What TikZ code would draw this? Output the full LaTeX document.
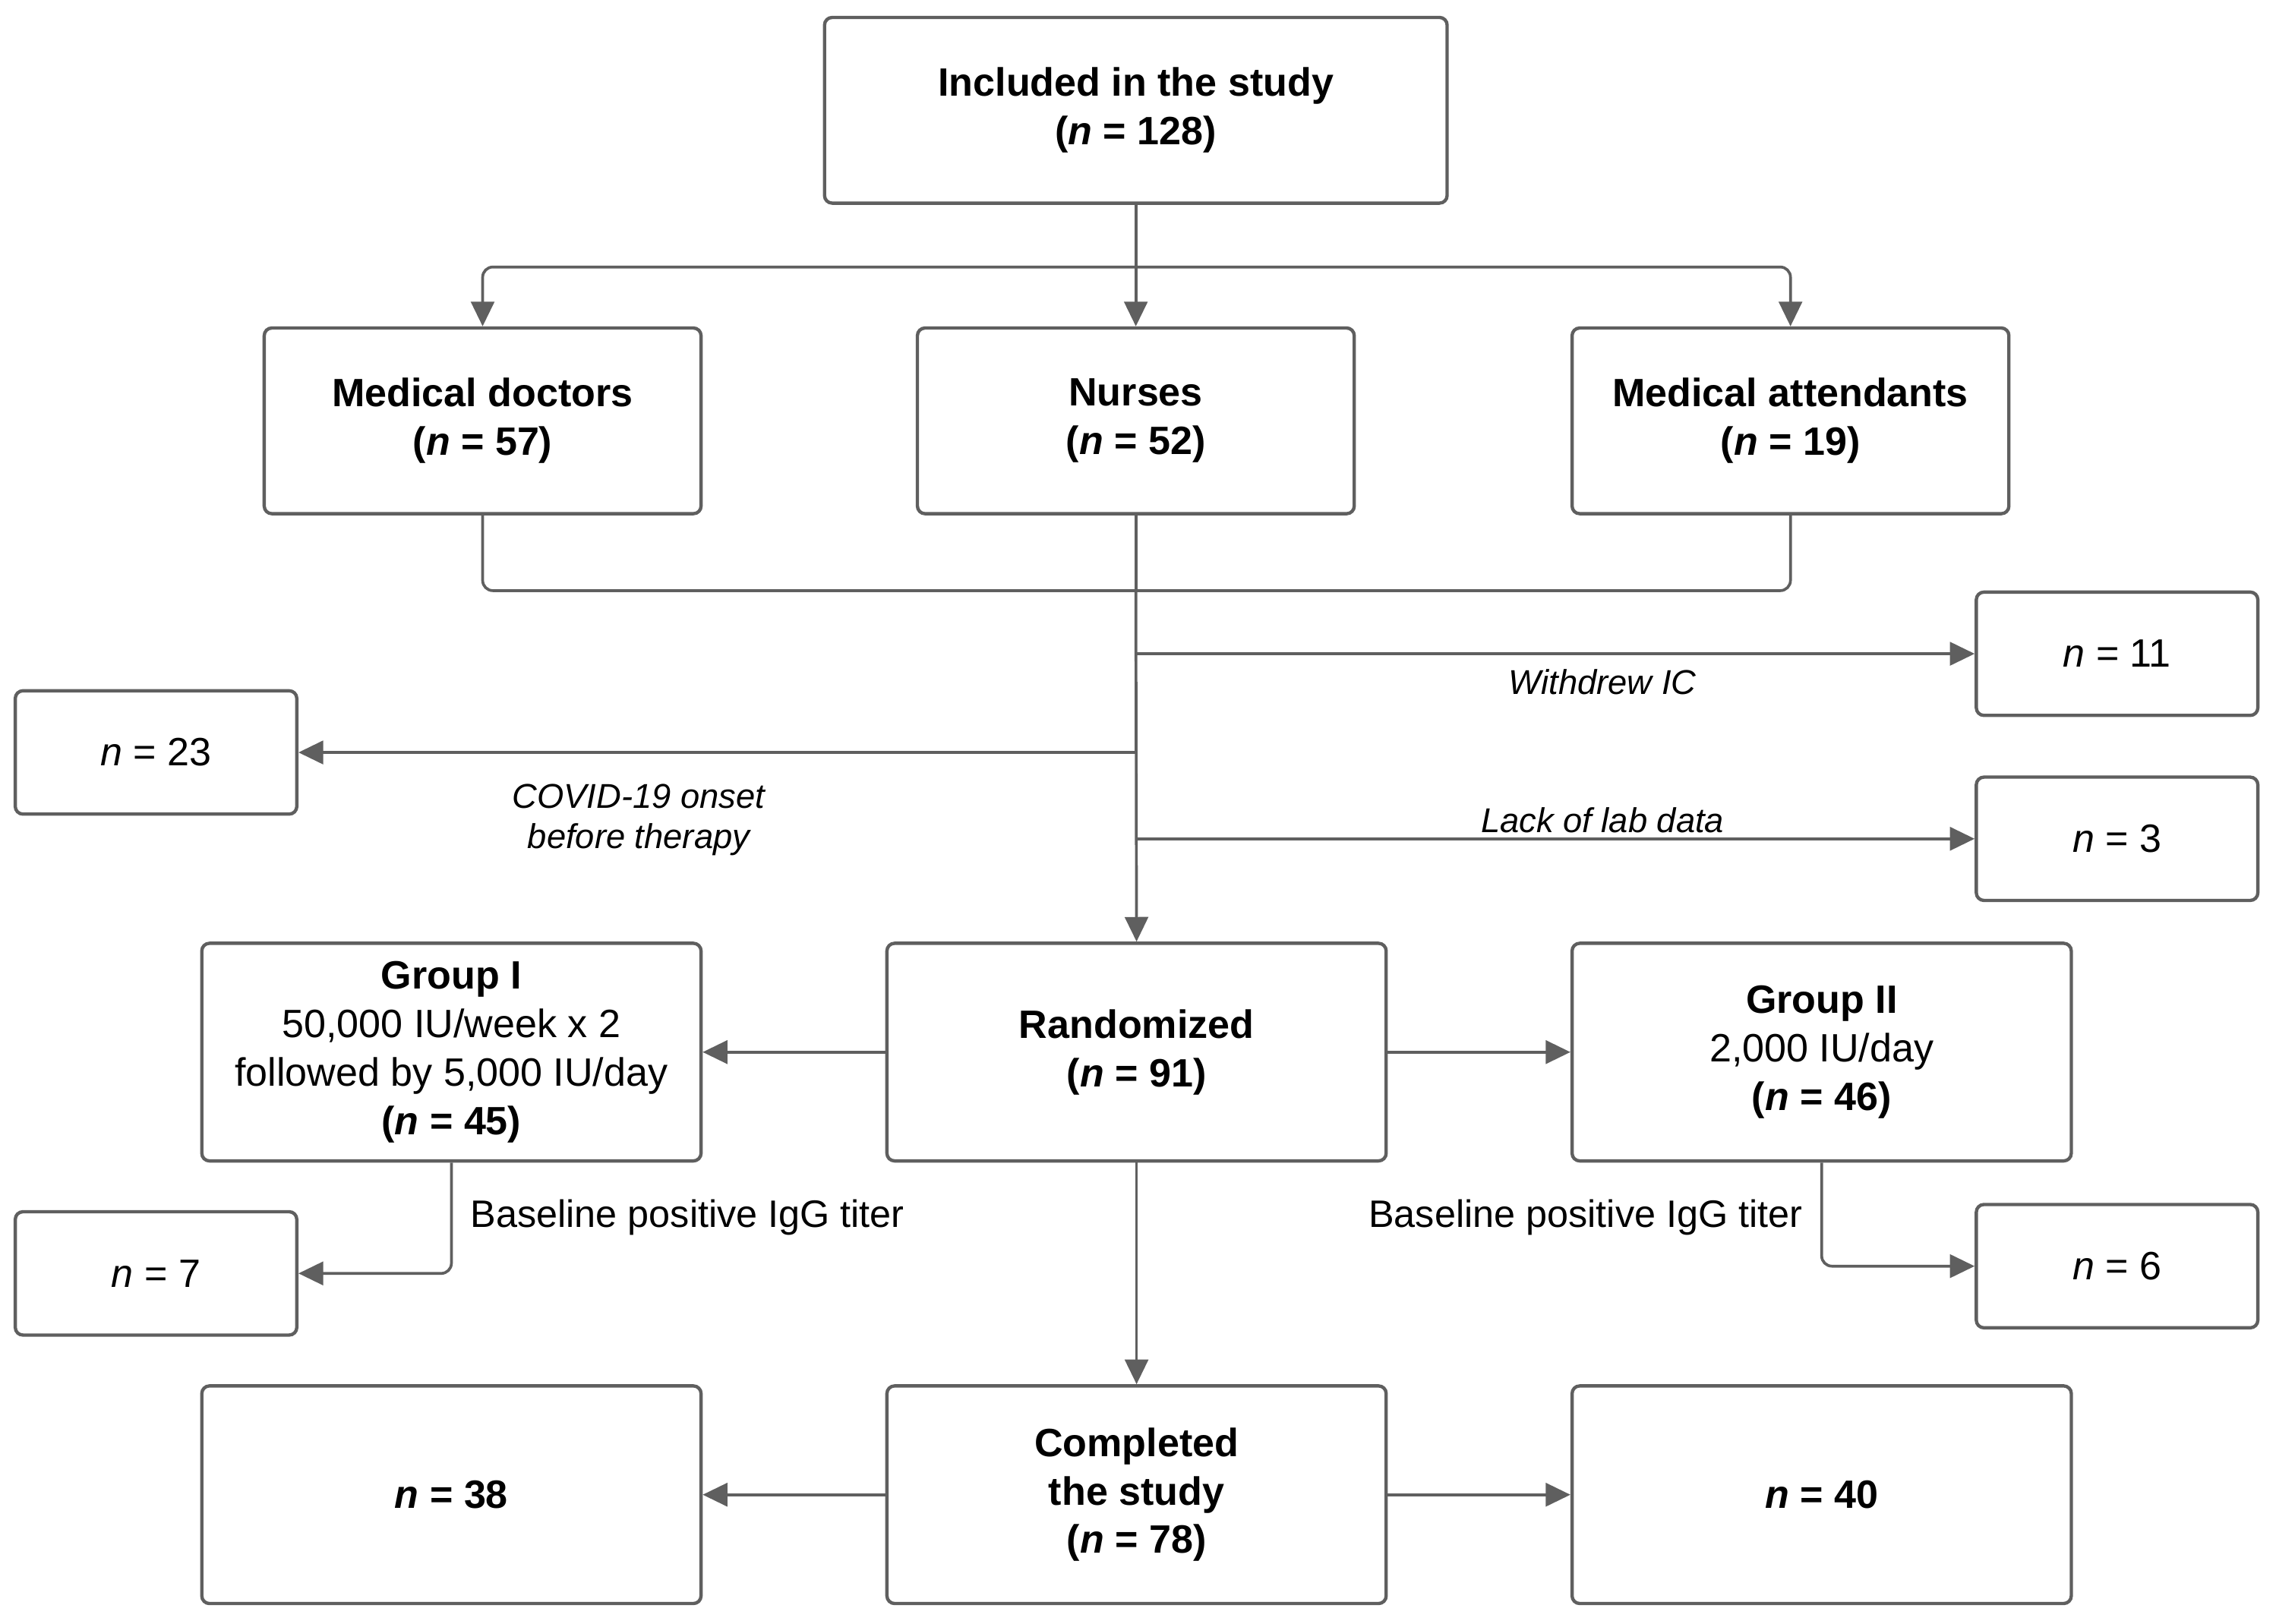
\documentclass[tikz,border=0pt]{standalone}
\usepackage{fontspec}
\setmainfont{Liberation Sans}
\usetikzlibrary{arrows.meta}

\definecolor{linegray}{HTML}{5F5F5F}

\tikzset{
        box/.style={draw=linegray, line width=1.3pt, rounded corners=3pt, align=center,
                inner sep=0pt, font=\fontsize{15.5}{19}\selectfont},
        midbox/.style={box, minimum width=6.02cm, minimum height=2.56cm},
        bigbox/.style={box, minimum width=6.88cm, minimum height=3cm},
        nbox/.style={box, minimum width=3.88cm, minimum height=1.7cm},
        conn/.style={draw=linegray, line width=1.1pt, rounded corners=4pt},
        arr/.style={conn, -{Triangle[length=3.4mm, width=3.2mm]}},
        lbl/.style={font=\fontsize{13.5}{16}\selectfont\itshape, align=center},
        note/.style={font=\fontsize{15}{18}\selectfont}
}

\begin{document}
\begin{tikzpicture}[x=0.02cm, y=-0.02cm]

        \useasboundingbox (0, 0) rectangle (1568, 1119);

        \node[box, minimum width=8.58cm, minimum height=2.56cm] (incl) at (782.5, 76)
                {\textbf{Included in the study}\\\textbf{(\textit{n} = 128)}};

        \node[midbox] (doc) at (332.5, 290) {\textbf{Medical doctors}\\\textbf{(\textit{n} = 57)}};
        \node[midbox] (nur) at (782.5, 290) {\textbf{Nurses}\\\textbf{(\textit{n} = 52)}};
        \node[midbox] (att) at (1233.5, 290) {\textbf{Medical attendants}\\\textbf{(\textit{n} = 19)}};

        \coordinate (split) at (782.5, 184);
        \coordinate (merge) at (782.5, 407);
        \draw[conn] (incl.south) -- (split);
        \foreach \g in {doc, nur, att}
        {
                \draw[arr] (split) -| (\g.north);
                \draw[conn] (\g.south) |- (merge);
        }

        \node[nbox] (n11) at (1458.5, 450.5) {\textit{n} = 11};
        \node[nbox] (n23) at (107.5, 518.5) {\textit{n} = 23};
        \node[nbox] (n3) at (1458.5, 578) {\textit{n} = 3};

        \node[bigbox] (rand) at (783, 725) {\textbf{Randomized}\\\textbf{(\textit{n} = 91)}};
        \node[bigbox] (g1) at (311, 725)
                {\textbf{Group I}\\50,000 IU/week x 2\\followed by 5,000 IU/day\\\textbf{(\textit{n} = 45)}};
        \node[bigbox] (g2) at (1255, 725)
                {\textbf{Group II}\\2,000 IU/day\\\textbf{(\textit{n} = 46)}};

        \draw[arr] (merge) -- (rand.north);
        \draw[arr] (merge |- n11.west) -- (n11.west);
        \draw[arr] (merge |- n23.east) -- (n23.east);
        \draw[arr] (merge |- n3.west) -- (n3.west);

        \node[lbl] (wdr) at (1104, 470) {Withdrew IC};
        \node[lbl] (covid) at (440, 565) {COVID-19 onset\\before therapy};
        \node[lbl] (lab) at (1104, 565) {Lack of lab data};

        \node[nbox] (n7) at (107.5, 877.5) {\textit{n} = 7};
        \node[nbox] (n6) at (1458.5, 872.5) {\textit{n} = 6};

        \draw[arr] (rand.west) -- (g1.east);
        \draw[arr] (rand.east) -- (g2.west);
        \draw[arr] (g1.south) |- (n7.east);
        \draw[arr] (g2.south) |- (n6.west);

        \node[note, anchor=west] (bl1) at (318, 839) {Baseline positive IgG titer};
        \node[note, anchor=east] (bl2) at (1248, 839) {Baseline positive IgG titer};

        \node[bigbox] (comp) at (783, 1030)
                {\textbf{Completed}\\\textbf{the study}\\\textbf{(\textit{n} = 78)}};
        \node[bigbox] (n38) at (311, 1030) {\textbf{\textit{n} = 38}};
        \node[bigbox] (n40) at (1255, 1030) {\textbf{\textit{n} = 40}};

        \draw[arr] (rand.south) -- (comp.north);
        \draw[arr] (comp.west) -- (n38.east);
        \draw[arr] (comp.east) -- (n40.west);

\end{tikzpicture}
\end{document}
